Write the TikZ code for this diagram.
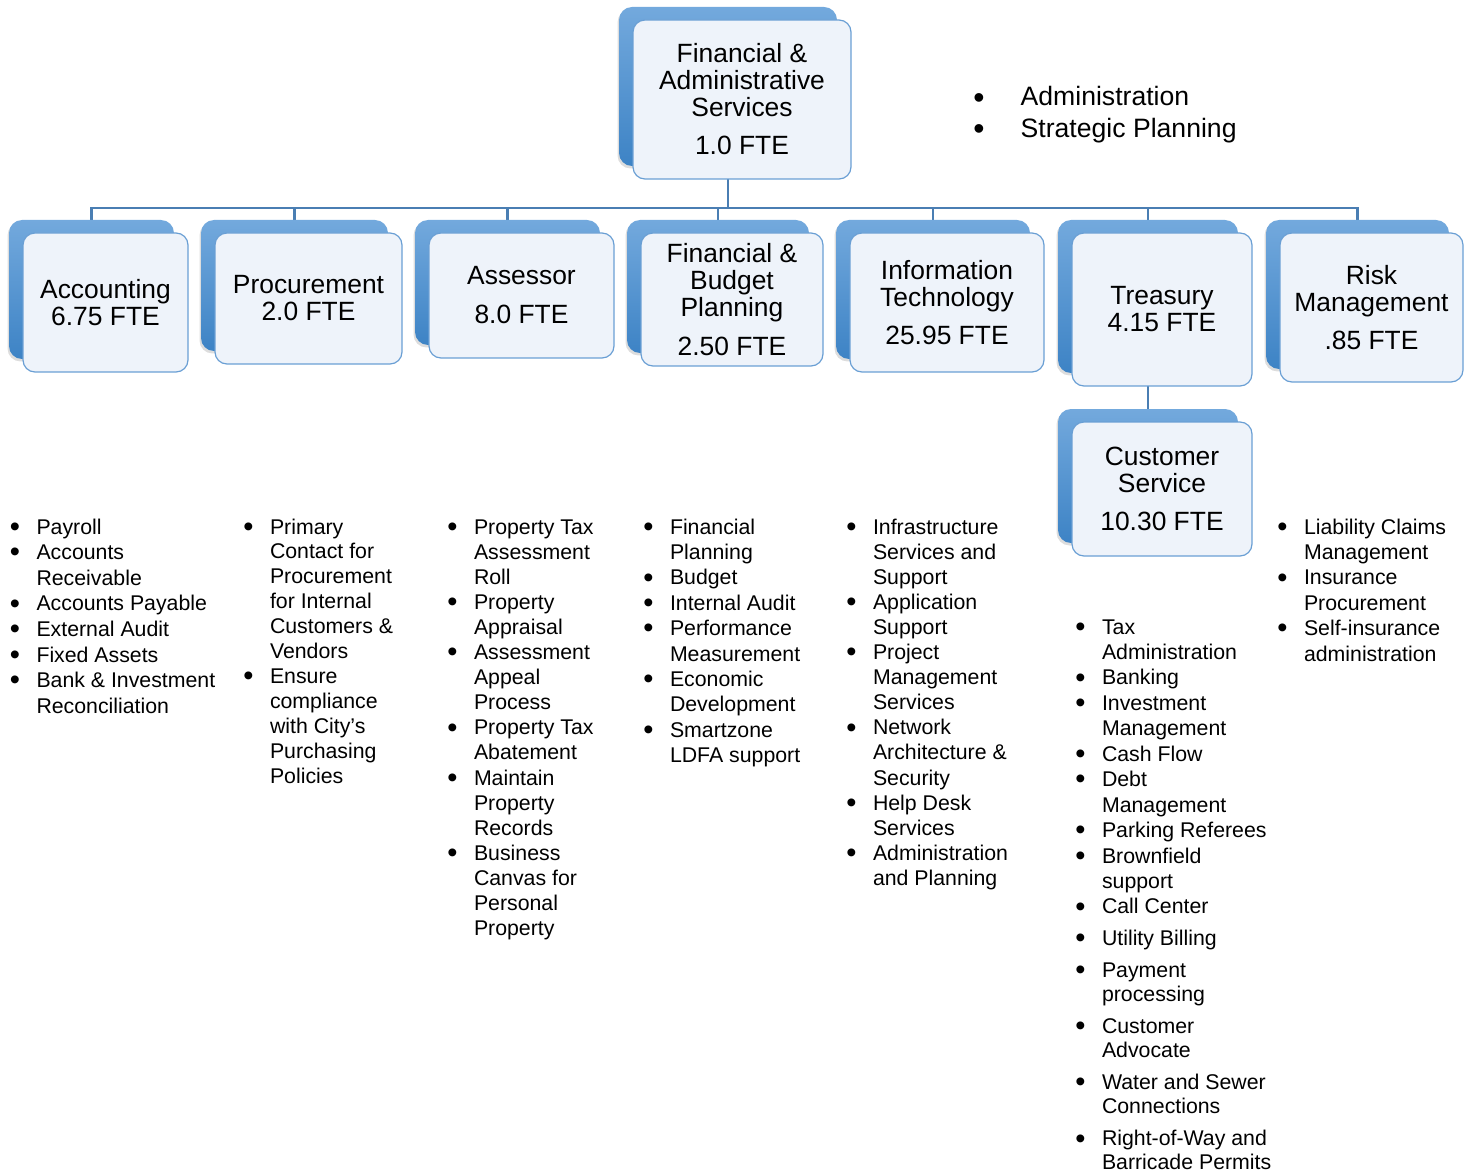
\documentclass[tikz,border=0pt]{standalone}
\usepackage{fontspec}
\setmainfont{Liberation Sans}
\usetikzlibrary{shadows}
\pgfdeclarelayer{bg}
\pgfsetlayers{bg,main}

\definecolor{linkblue}{HTML}{4A7EB3}
\definecolor{backtop}{HTML}{73A9DD}
\definecolor{backbot}{HTML}{3D83C5}
\definecolor{frontfill}{HTML}{EEF3FA}
\definecolor{frontline}{HTML}{6A9FD4}

\newcommand\boxfont{\fontsize{26.4}{27}\selectfont}
\newcommand\listfont[1]{\fontsize{21.3}{#1}\selectfont}
% bullet cell: bullet centred on the cell's left edge, text 21.5pt further right;
% the bullet takes no height, so the line spacing is set by the text alone
\newcommand\bu{\makebox[21.5pt][l]{\makebox[0pt]{\raisebox{-2.2pt}[0pt][0pt]{\fontsize{29}{0}\selectfont\textbullet}}}}
\newcommand\bigbu{\makebox[41.7pt][l]{\makebox[0pt]{\raisebox{-2.4pt}[0pt][0pt]{\fontsize{32}{0}\selectfont\textbullet}}}}

\tikzset{
  backbox/.style={rounded corners=13pt, top color=backtop, bottom color=backbot,
    draw=none, inner sep=0pt, outer sep=0pt,
    drop shadow={shadow xshift=-1.5pt, shadow yshift=-2.5pt, opacity=0.22, fill=black!60}},
  frontbox/.style={rounded corners=12pt, fill=frontfill, draw=frontline,
    line width=1.2pt, inner sep=0pt, outer sep=0pt, align=center, font=\boxfont},
  link/.style={draw=linkblue, line width=2.6pt, line join=miter},
  bullist/.style={anchor=base west, inner sep=0pt, outer sep=0pt},
}

% #1 name, #2 left, #3 top, #4 right, #5 bottom of the front card, #6 text
\newcommand\orgunit[6]{%
  \node[backbox, minimum width={(#4-#2)*1pt}, minimum height={(#5-#3)*1pt}]
    (#1-back) at ({(#2+#4)/2-14},{(#3+#5)/2-13}) {};
  \node[frontbox, minimum width={(#4-#2)*1pt}, minimum height={(#5-#3)*1pt}]
    (#1) at ({(#2+#4)/2},{(#3+#5)/2}) {#6};
}

\begin{document}
\begin{tikzpicture}[x=1pt, y=-1pt]
\useasboundingbox (0,0) rectangle (1468,1174);

% organisation cards
\orgunit{top}{633}{20}{851}{179}{Financial \&\\Administrative\\Services\\[11pt]1.0 FTE}
\orgunit{acc}{23}{233}{188}{372}{Accounting\\6.75 FTE}
\orgunit{proc}{215}{233}{402}{364}{Procurement\\2.0 FTE}
\orgunit{ass}{429}{233}{614}{358}{Assessor\\[12pt]8.0 FTE}
\orgunit{fbp}{641}{233}{823}{366}{Financial \&\\Budget\\Planning\\[12pt]2.50 FTE}
\orgunit{it}{850}{233}{1044}{372}{Information\\Technology\\[11pt]25.95 FTE}
\orgunit{tre}{1072}{233}{1252}{386}{Treasury\\4.15 FTE}
\orgunit{risk}{1280}{233}{1463}{382}{Risk\\Management\\[11pt].85 FTE}
\orgunit{cust}{1072}{422}{1252}{556}{Customer\\Service\\[11pt]10.30 FTE}

% connectors, behind the cards
\begin{pgfonlayer}{bg}
  \coordinate (bus) at (728,208);
  \draw[link] (top-back.south) -- (bus);
  \draw[link] (acc-back.north) -- (bus -| acc-back.north)
              -- (bus -| risk-back.north) -- (risk-back.north);
  \foreach \n in {proc,ass,fbp,it,tre}
    \draw[link] (bus -| \n-back.north) -- (\n-back.north);
  \draw[link] (tre-back.south) -- (cust-back.north);
\end{pgfonlayer}

% duties of the director's office
\node[bullist, font=\fontsize{26.6}{31.5}\selectfont] (topl) at (979,106)
  {\begin{tabular}[t]{@{}l@{}l@{}}
   \bigbu & Administration\\
   \bigbu & Strategic Planning
   \end{tabular}};

% duties of each division
\node[bullist, font={\listfont{25.6}}] (accl) at (15,534)
  {\begin{tabular}[t]{@{}l@{}l@{}}
   \bu & Payroll\\
   \bu & Accounts\\
       & Receivable\\
   \bu & Accounts Payable\\
   \bu & External Audit\\
   \bu & Fixed Assets\\
   \bu & Bank \& Investment\\
       & Reconciliation
   \end{tabular}};

\node[bullist, font={\listfont{24.9}}] (procl) at (248.5,534)
  {\begin{tabular}[t]{@{}l@{}l@{}}
   \bu & Primary\\
       & Contact for\\
       & Procurement\\
       & for Internal\\
       & Customers \&\\
       & Vendors\\
   \bu & Ensure\\
       & compliance\\
       & with City’s\\
       & Purchasing\\
       & Policies
   \end{tabular}};

\node[bullist, font={\listfont{25.1}}] (assl) at (452.5,534)
  {\begin{tabular}[t]{@{}l@{}l@{}}
   \bu & Property Tax\\
       & Assessment\\
       & Roll\\
   \bu & Property\\
       & Appraisal\\
   \bu & Assessment\\
       & Appeal\\
       & Process\\
   \bu & Property Tax\\
       & Abatement\\
   \bu & Maintain\\
       & Property\\
       & Records\\
   \bu & Business\\
       & Canvas for\\
       & Personal\\
       & Property
   \end{tabular}};

\node[bullist, font={\listfont{25.4}}] (fbpl) at (648.5,534)
  {\begin{tabular}[t]{@{}l@{}l@{}}
   \bu & Financial\\
       & Planning\\
   \bu & Budget\\
   \bu & Internal Audit\\
   \bu & Performance\\
       & Measurement\\
   \bu & Economic\\
       & Development\\
   \bu & Smartzone\\
       & LDFA support
   \end{tabular}};

\node[bullist, font={\listfont{25.1}}] (itl) at (851.5,534)
  {\begin{tabular}[t]{@{}l@{}l@{}}
   \bu & Infrastructure\\
       & Services and\\
       & Support\\
   \bu & Application\\
       & Support\\
   \bu & Project\\
       & Management\\
       & Services\\
   \bu & Network\\
       & Architecture \&\\
       & Security\\
   \bu & Help Desk\\
       & Services\\
   \bu & Administration\\
       & and Planning
   \end{tabular}};

\node[bullist, font={\listfont{25.45}}] (trel) at (1080.5,634)
  {\begin{tabular}[t]{@{}l@{}l@{}}
   \bu & Tax\\
       & Administration\\
   \bu & Banking\\
   \bu & Investment\\
       & Management\\
   \bu & Cash Flow\\
   \bu & Debt\\
       & Management\\
   \bu & Parking Referees\\
   \bu & Brownfield\\
       & support\\
   \bu & Call Center\\[5.8pt]
   \bu & Utility Billing\\[6.5pt]
   \bu & Payment\\[-1pt]
       & processing\\[6pt]
   \bu & Customer\\[-1pt]
       & Advocate\\[6.5pt]
   \bu & Water and Sewer\\[-1pt]
       & Connections\\[6.5pt]
   \bu & Right-of-Way and\\[-2pt]
       & Barricade Permits
   \end{tabular}};

\node[bullist, font={\listfont{25.4}}] (riskl) at (1282.5,534)
  {\begin{tabular}[t]{@{}l@{}l@{}}
   \bu & Liability Claims\\
       & Management\\
   \bu & Insurance\\
       & Procurement\\
   \bu & Self-insurance\\
       & administration
   \end{tabular}};
\end{tikzpicture}
\end{document}
